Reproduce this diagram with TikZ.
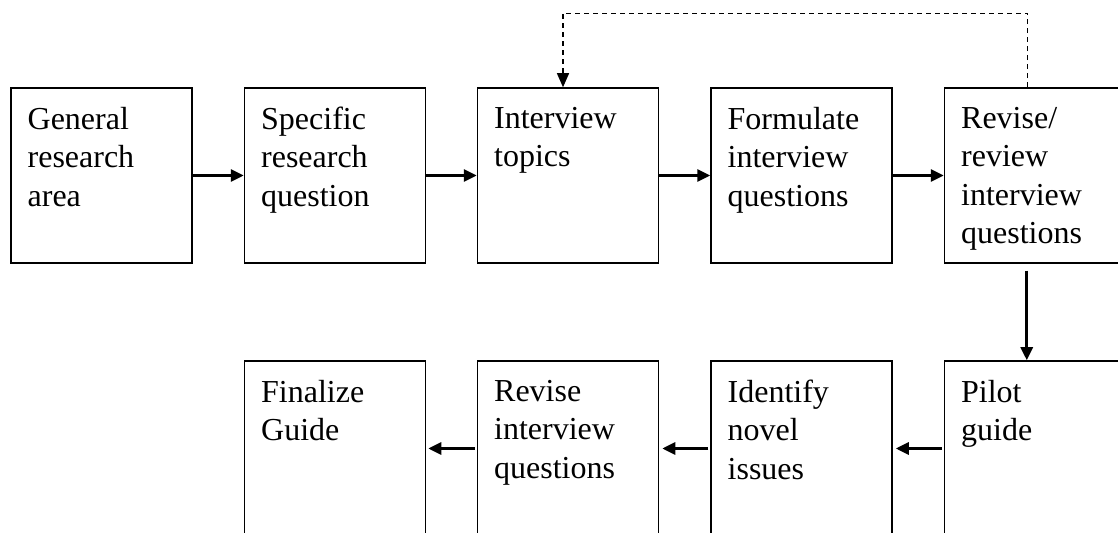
\documentclass[tikz,border=0pt]{standalone}
\usepackage{fontspec}
\setmainfont{Liberation Serif}
\usetikzlibrary{positioning,arrows.meta}
\tikzset{stage/.style={draw,line width=0.75pt,minimum width=90.5pt,minimum height=87.5pt,inner sep=0pt}}
\tikzset{stagetext/.style={anchor=north west,inner sep=0pt,align=left,xshift=8.5pt,yshift=-9.6pt,font=\fontsize{16}{19.3}\selectfont}}
\tikzset{flow/.style={-{Triangle[length=6.5pt,width=6pt]},line width=1.5pt}}
\tikzset{feedback/.style={-{Triangle[length=7pt,width=6pt]},dash pattern=on 2.5pt off 2pt,line width=0.65pt}}

\begin{document}
\begin{tikzpicture}[x=0.5pt,y=0.5pt]

	%% Page frame
	\clip (0,0) rectangle (1118,-533);
	%%

	%% Top row
	\node[stage] (general) at (101.5,-175.5) {};
	\node[stage] (specific) at (335,-175.5) {};
	\node[stage] (topics) at (568,-175.5) {};
	\node[stage] (formulate) at (801.5,-175.5) {};
	\node[stage] (revise) at (1035,-175.5) {};

	\node[stagetext] at (general.north west) {General\\research\\area};
	\node[stagetext] at (specific.north west) {Specific\\research\\question};
	\node[stagetext] at (topics.north west) {Interview\\topics};
	\node[stagetext] at (formulate.north west) {Formulate\\interview\\questions};
	\node[stagetext] at (revise.north west) {Revise/\\review\\interview\\questions};

	%% Bottom row
	\node[stage] (finalize) at (335,-448.5) {};
	\node[stage] (reviseq) at (568,-448.5) {};
	\node[stage] (identify) at (801.5,-448.5) {};
	\node[stage] (pilot) at (1035,-448.5) {};

	\node[stagetext] at (finalize.north west) {Finalize\\Guide};
	\node[stagetext] at (reviseq.north west) {Revise\\interview\\questions};
	\node[stagetext] at (identify.north west) {Identify\\novel\\issues};
	\node[stagetext] at (pilot.north west) {Pilot\\guide};

	%% Connectors
	\draw[flow] (general.east) -- (specific.west);
	\draw[flow] (specific.east) -- (topics.west);
	\draw[flow] (topics.east) -- (formulate.west);
	\draw[flow] (formulate.east) -- (revise.west);
	\draw[flow] ([xshift=41.5pt,yshift=-3.5pt]revise.south west) -- ([xshift=41.5pt]pilot.north west);
	\draw[flow] ([xshift=-1pt]pilot.west) -- ([xshift=1.5pt]identify.east);
	\draw[flow] ([xshift=-1pt]identify.west) -- ([xshift=1.5pt]reviseq.east);
	\draw[flow] ([xshift=-1pt]reviseq.west) -- ([xshift=1pt]finalize.east);
	%\draw[feedback] (revise.north) -- (topics.north);
	\draw[feedback] ([xshift=42pt]revise.north west) -- ++(0,74) -| ([xshift=-2.5pt]topics.north);

\end{tikzpicture}
\end{document}
